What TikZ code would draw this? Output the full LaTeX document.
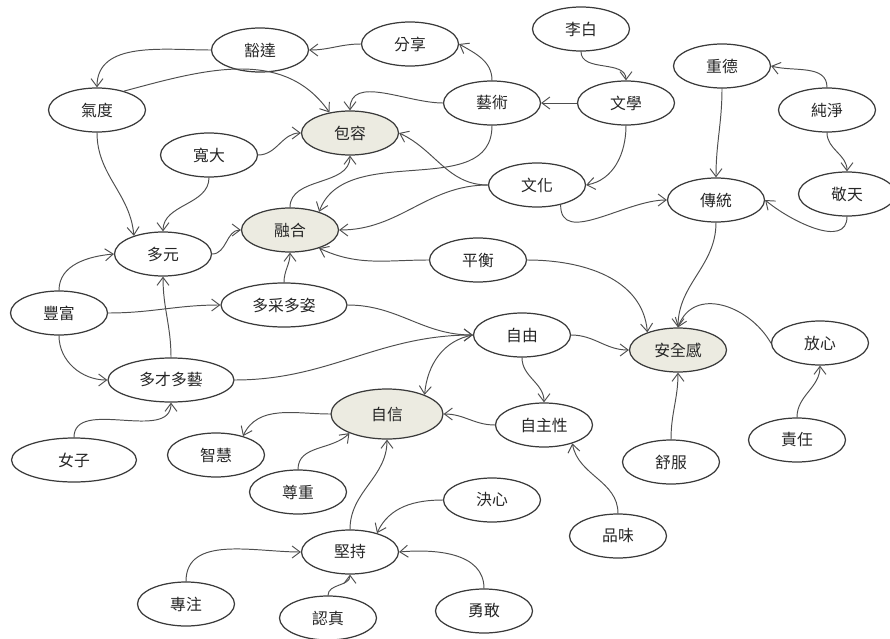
\documentclass[tikz,border=0pt]{standalone}
\usepackage{fontspec}
\newfontfamily\cjk{Noto Sans CJK TC}
\usepackage{tikz}
\usetikzlibrary{arrows.meta, shapes.geometric}

\definecolor{linkgray}{HTML}{4E4E4E}
\definecolor{rimgray}{HTML}{3A3A3A}
\definecolor{corefill}{HTML}{ECEBE1}

\begin{document}
\begin{tikzpicture}[
  x=0.02cm,
  y=-0.02cm,
  line cap=round,
  line join=round,
  idea/.style={
    ellipse,
    draw=rimgray,
    fill=white,
    line width=0.7pt,
    minimum width=1.94cm,
    minimum height=0.88cm,
    inner sep=0pt,
    text=black!85,
    font=\cjk\fontsize{9}{11}\selectfont
  },
  core/.style={
    idea,
    fill=corefill
  },
  wideidea/.style={
    idea,
    minimum width=2.52cm
  },
  link/.style={
    -{Straight Barb[length=1.6mm,width=2.4mm]},
    line width=0.55pt,
    draw=linkgray
  }
]
\useasboundingbox (0,0) rectangle (890,639);

% =========================================================
% Concepts
% =========================================================

% ---------------- upper part ----------------
\node[idea] (huoda)     at (260,50)  {豁達};
\node[idea] (fenxiang)  at (410,44)  {分享};
\node[idea] (libai)     at (581,29)  {李白};
\node[idea] (zhongde)   at (722,66)  {重德};
\node[idea] (qidu)      at (97,110)  {氣度};
\node[idea] (yishu)     at (492,103) {藝術};
\node[idea] (wenxue)    at (626,103) {文學};
\node[idea] (chunjing)  at (827,110) {純淨};
\node[core] (baorong)   at (350,133) {包容};
\node[idea] (kuanda)    at (209,155) {寬大};
\node[idea] (wenhua)    at (537,185) {文化};
\node[idea] (chuantong) at (716,200) {傳統};
\node[idea] (jingtian)  at (847,194) {敬天};

% ---------------- middle part ----------------
\node[core] (ronghe)    at (290,230) {融合};
\node[idea] (duoyuan)   at (163,254) {多元};
\node[idea] (pingheng)  at (478,260) {平衡};
\node[idea] (fengfu)    at (59,313)  {豐富};
\node[wideidea] (duocai) at (284,305) {多采多姿};
\node[idea] (zixou)     at (522,335) {自由};
\node[core] (anquan)    at (678,350) {安全感};
\node[idea] (fangxin)   at (820,343) {放心};
\node[wideidea] (duoyi) at (171,380) {多才多藝};

% ---------------- lower part ----------------
\node[core, minimum width=2.24cm, minimum height=1cm] (zixin) at (387,414) {自信};
\node[idea] (zizhu)     at (544,425) {自主性};
\node[idea, minimum width=2.5cm] (nvzi) at (74,460) {女子};
\node[idea] (zhihui)    at (216,455) {智慧};
\node[idea] (zunzhong)  at (298,492) {尊重};
\node[idea] (shufu)     at (671,462) {舒服};
\node[idea] (zeren)     at (797,440) {責任};
\node[idea] (juexin)    at (492,500) {決心};
\node[idea] (pinwei)    at (618,536) {品味};
\node[idea] (jianchi)   at (350,552) {堅持};
\node[idea] (zhuanzhu)  at (186,604) {專注};
\node[idea] (renzhen)   at (328,618) {認真};
\node[idea] (yonggan)   at (484,611) {勇敢};

% =========================================================
% Links
% =========================================================

% towards 包容
\draw[link] (fenxiang) to[out=180,in=0] (huoda);
\draw[link] (huoda.west) to[out=180,in=90] (qidu.north);
\draw[link] (qidu.35) to[out=15,in=125] (baorong.135);
\draw[link] (yishu.west) to[out=180,in=90] (baorong.north);
\draw[link] (kuanda) to[out=0,in=180] (baorong);
\draw[link] (wenhua.west) to[out=180,in=-25] (baorong.east);
\draw[link] (ronghe.north) to[out=90,in=270] (baorong.south);
\draw[link] (yishu.north) to[out=90,in=-30] (fenxiang.east);

% literature and culture
\draw[link] (wenxue) -- (yishu);
\draw[link] (libai.south) to[out=270,in=90] (wenxue.north);
\draw[link] (wenxue.south) to[out=270,in=10] (wenhua.east);
\draw[link] (yishu.south) to[out=270,in=70] (ronghe.32);
\draw[link] (wenhua.west) to[out=180,in=0] (ronghe.east);
\draw[link] (wenhua.-40) to[out=270,in=180] (chuantong.west);

% tradition
\draw[link] (zhongde.south) to[out=270,in=90] (chuantong.north);
\draw[link] (chunjing.north) to[out=90,in=-15] (zhongde.east);
\draw[link] (chunjing.south) to[out=270,in=90] (jingtian.north);
\draw[link] (jingtian.south) to[out=270,in=-40] (chuantong.east);

% towards 多元 and 融合
\draw[link] (qidu.south) to[out=270,in=95] (duoyuan.148);
\draw[link] (kuanda.south) to[out=270,in=90] (duoyuan.north);
\draw[link] (duoyuan.east) to[out=0,in=180] (ronghe.west);
\draw[link] (duocai.north) to[out=90,in=270] (ronghe.south);
\draw[link] (pingheng.west) to[out=180,in=-25] (ronghe.-32);
\draw[link] (fengfu.north) to[out=90,in=185] (duoyuan.west);
\draw[link] (fengfu.east) to[out=0,in=180] (duocai.west);
\draw[link] (fengfu.south) to[out=270,in=180] (duoyi.west);
\draw[link] (duoyi.north) to[out=90,in=270] (duoyuan.south);
\draw[link] (nvzi.north) to[out=90,in=270] (duoyi.south);

% towards 安全感
\draw[link] (chuantong.south) to[out=270,in=90] (anquan.north);
\draw[link] (fangxin.west) to[out=120,in=70,looseness=1.2] (anquan.north);
\draw[link] (pingheng.east) to[out=0,in=95] (anquan.150);
\draw[link] (zixou.east) to[out=0,in=180] (anquan.west);
\draw[link] (shufu.north) to[out=90,in=270] (anquan.south);
\draw[link] (zeren.north) to[out=90,in=270] (fangxin.south);

% freedom and confidence
\draw[link] (duocai.east) to[out=0,in=180] (zixou.west);
\draw[link] (duoyi.east) to[out=0,in=180] (zixou.west);
\draw[link] (zixou.south) to[out=270,in=90] (zizhu.north);
\draw[link] (zixou.west) to[out=190,in=85] (zixin.27);
\draw[link] (zizhu.west) to[out=180,in=0] (zixin.east);
\draw[link] (pinwei.north) to[out=90,in=280] (zizhu.-33);
\draw[link] (zixin.west) to[out=180,in=65] (zhihui.35);
\draw[link] (zunzhong.north) to[out=90,in=225] (zixin.207);
\draw[link] (jianchi.north) to[out=90,in=270] (zixin.south);

% towards 堅持
\draw[link] (juexin.west) to[out=180,in=65] (jianchi.35);
\draw[link] (zhuanzhu.north) to[out=90,in=180] (jianchi.west);
\draw[link] (renzhen.north) to[out=90,in=270] (jianchi.south);
\draw[link] (yonggan.north) to[out=90,in=5] (jianchi.east);

\end{tikzpicture}
\end{document}
